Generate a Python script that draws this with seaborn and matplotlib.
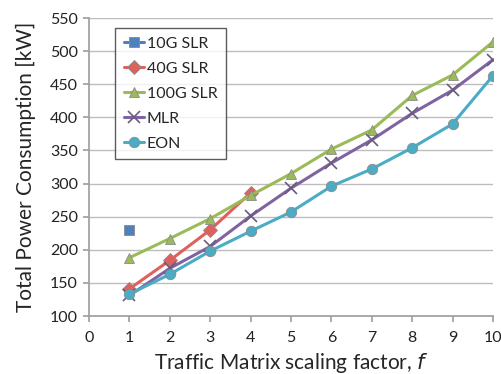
import numpy as np
import pandas as pd
import seaborn as sns
import matplotlib.pyplot as plt

# values
f_10g = [1]
p_10g = [230]
f_40g = [1, 2, 3, 4]
p_40g = [141, 184, 230, 286]
f_all = [1, 2, 3, 4, 5, 6, 7, 8, 9, 10]
p_100g = [188, 217, 247, 282, 315, 352, 381, 433, 464, 514]
p_mlr = [131, 172, 205, 251, 293, 331, 366, 406, 441, 487]
p_eon = [133, 163, 198, 228, 257, 296, 322, 354, 390, 463]

series = [
    ("10G SLR", f_10g, p_10g, "#4F81BD", "s"),
    ("40G SLR", f_40g, p_40g, "#E0605C", "D"),
    ("100G SLR", f_all, p_100g, "#9BBB59", "^"),
    ("MLR", f_all, p_mlr, "#8064A2", "x"),
    ("EON", f_all, p_eon, "#4BACC6", "o"),
]

sns.set_theme(style="white")
plt.rcParams['font.family'] = ['Lato', 'DejaVu Sans']

fig = plt.figure(figsize=(5.02, 3.74), dpi=100)
ax = fig.add_axes([89 / 502, 1 - 316 / 374, 404 / 502, 298 / 374])

for name, xs, ys, col, mk in series:
    df = pd.DataFrame({"f": xs, "P": ys})
    if mk == "x":
        sns.lineplot(data=df, x="f", y="P", ax=ax, color=col, linewidth=2.2,
                     marker=mk, markersize=8, markeredgewidth=1.2,
                     markeredgecolor="#6a5a80", label=name)
    else:
        sns.lineplot(data=df, x="f", y="P", ax=ax, color=col, linewidth=2.2,
                     marker=mk, markersize=7.5, markeredgecolor="#8a8a8a",
                     markeredgewidth=0.6, label=name)

ax.set_xlim(0, 10)
ax.set_ylim(100, 550)
ax.set_xticks(range(0, 11))
ax.set_yticks(range(100, 551, 50))
ax.yaxis.grid(True, color="#BDBDBD", linewidth=1)
ax.xaxis.grid(False)
for s in ["top", "right"]:
    ax.spines[s].set_visible(False)
for s in ["left", "bottom"]:
    ax.spines[s].set_color("#A0A0A0")
ax.tick_params(axis="both", direction="out", length=4, color="#A0A0A0",
               labelsize=11.5, colors="#222222", pad=4)
ax.tick_params(axis="x", pad=7)
ax.tick_params(axis="both", which="both", left=True, bottom=True)

ax.set_xlabel("Traffic Matrix scaling factor, $f$", fontsize=15, labelpad=4)
ax.set_ylabel("Total Power Consumption [kW]", fontsize=15, labelpad=10)

leg = ax.legend(loc="upper left", bbox_to_anchor=(0.064, 0.968), frameon=True,
                fancybox=False, edgecolor="#333333", fontsize=11.5,
                handlelength=1.3, handletextpad=0.15, labelspacing=0.68,
                borderpad=0.55, borderaxespad=0)
leg.get_frame().set_linewidth(1)

fig.savefig("out.png", dpi=100)
